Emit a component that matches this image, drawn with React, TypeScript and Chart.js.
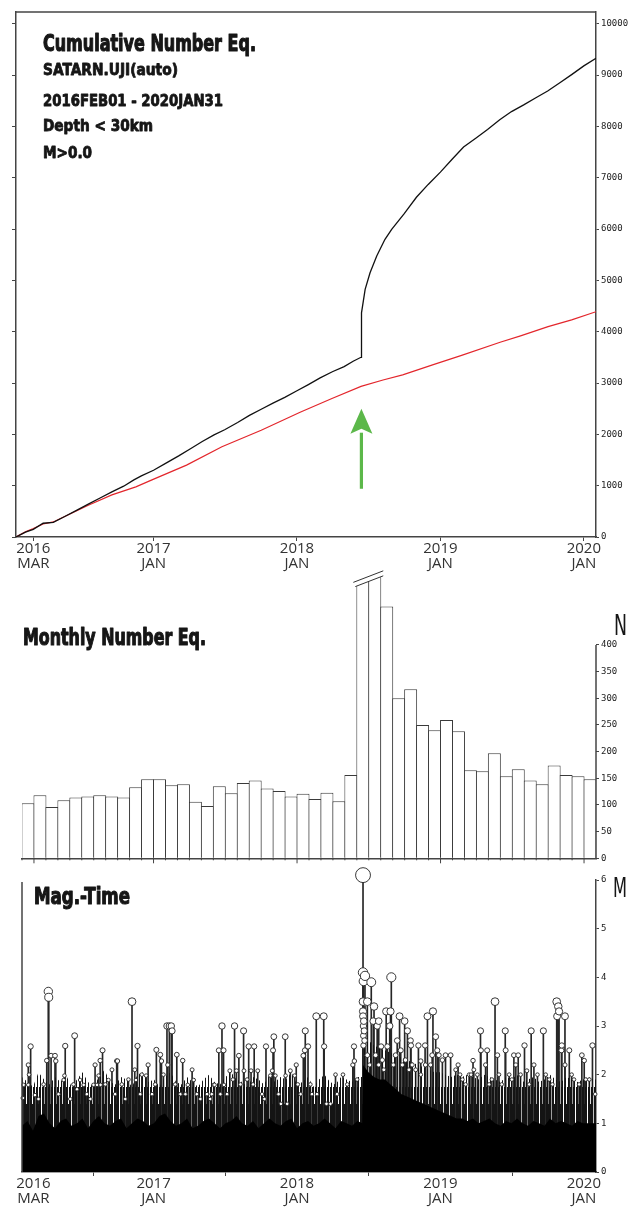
import React, { useEffect, useRef } from 'react';
import { Chart, registerables } from 'chart.js';

Chart.register(...registerables);

const W = 642;

// ---------- shared time axis: days since 2016-01-01 ----------
const X_MAX = 1492;
const xTickDays = [60, 366, 731, 1096, 1461];
const xTickYears = ['2016', '2017', '2018', '2019', '2020'];
const xTickMonths = ['MAR', 'JAN', 'JAN', 'JAN', 'JAN'];

// ---------- cumulative number ----------
const cumTitle = 'Cumulative Number Eq.';
const cumInfo = ['SATARN.UJI(auto)', '2016FEB01 - 2020JAN31', 'Depth < 30km', 'M>0.0'];
const cumTicks = [0, 1000, 2000, 3000, 4000, 5000, 6000, 7000, 8000, 9000, 10000];
const allDays = [16, 40, 60, 85, 111, 140, 170, 200, 230, 260, 290, 316, 335, 366, 400, 430, 460, 490, 520, 547, 580, 610, 640, 670, 700, 731, 760, 790, 821, 851, 874, 894, 894.5, 896, 904.5, 917, 934, 955, 972, 1004, 1035, 1065, 1096, 1127, 1155, 1186, 1216, 1247, 1277, 1308, 1339, 1369, 1400, 1430, 1461, 1492];
const allCounts = [0, 95, 150, 268, 285, 400, 520, 640, 760, 880, 990, 1113, 1190, 1300, 1450, 1580, 1720, 1860, 1990, 2090, 2230, 2370, 2490, 2610, 2720, 2850, 2970, 3100, 3220, 3320, 3424, 3502, 3850, 4369, 4824, 5150, 5475, 5801, 5996, 6300, 6620, 6870, 7110, 7370, 7600, 7770, 7940, 8130, 8290, 8420, 8560, 8690, 8850, 9010, 9180, 9330];
const declDays = [16, 40, 60, 85, 111, 140, 200, 260, 321, 362, 450, 540, 640, 739, 820, 894, 950, 1000, 1078, 1150, 1248, 1300, 1370, 1430, 1492];
const declCounts = [0, 100, 165, 254, 293, 400, 620, 820, 977, 1113, 1400, 1760, 2080, 2430, 2700, 2935, 3060, 3160, 3360, 3540, 3795, 3920, 4100, 4230, 4390];
const arrowDay = 895;
const arrowTip = 2500;
const arrowTail = 940;

// ---------- monthly number ----------
const monthTitle = 'Monthly Number Eq.';
const months = [
  '2016-02', '2016-03', '2016-04', '2016-05', '2016-06', '2016-07', '2016-08', '2016-09', '2016-10', '2016-11', '2016-12',
  '2017-01', '2017-02', '2017-03', '2017-04', '2017-05', '2017-06', '2017-07', '2017-08', '2017-09', '2017-10', '2017-11', '2017-12',
  '2018-01', '2018-02', '2018-03', '2018-04', '2018-05', '2018-06', '2018-07', '2018-08', '2018-09', '2018-10', '2018-11', '2018-12',
  '2019-01', '2019-02', '2019-03', '2019-04', '2019-05', '2019-06', '2019-07', '2019-08', '2019-09', '2019-10', '2019-11', '2019-12',
  '2020-01',
];
const monthlyCounts = [103, 118, 96, 109, 114, 116, 118, 116, 114, 133, 148, 148, 137, 139, 106, 98, 135, 122, 141, 146, 131, 126, 116, 121, 111, 123, 107, 156, 1480, 590, 472, 300, 317, 250, 240, 259, 238, 165, 163, 197, 154, 167, 146, 139, 174, 156, 154, 148];
const monthlyTicks = [0, 50, 100, 150, 200, 250, 300, 350, 400];
const majorMonths = ['2016-03', '2017-01', '2018-01', '2019-01', '2020-01'];
const MONTH_MAX = 531;
const breakMonths = ['2018-06', '2018-07'];
const breakLow = 510;
const breakHigh = 528;

// ---------- magnitude - time ----------
const magTitle = 'Mag.-Time';
const magTicks = [0, 1, 2, 3, 4, 5, 6];
const eventDays = [
  33, 35, 47, 47, 49, 53, 64, 94, 98, 99, 105, 115, 117, 137, 139, 141, 165, 171, 179, 188, 213, 217, 222, 226, 230, 231, 236, 251, 260, 272, 274, 311, 318, 321, 325, 336, 347, 352, 373, 383, 386, 400, 402, 406, 411, 413, 425, 440, 453, 464, 468, 519,
  521, 532, 540, 544, 545, 560, 572, 577, 583, 595, 596, 608, 614, 622, 631, 652, 663, 668, 670, 672, 676, 701, 702, 714, 725, 729, 747, 751, 752, 759, 780, 799, 800, 829, 848, 873, 876, 877,
  899, 899, 899, 899, 899, 900, 900, 900, 900.5, 901, 902, 903, 904, 910, 920, 925, 927, 935, 939, 945, 958, 961, 967, 969, 971, 986, 992, 995, 1005, 1012,
  1020, 1021, 1040, 1046, 1057, 1063, 1075, 1077, 1084, 1088, 1109, 1122, 1179, 1198, 1199, 1215, 1235, 1241, 1261, 1262, 1283, 1294, 1310, 1316, 1327, 1358, 1392, 1393, 1396, 1398, 1404, 1405, 1413, 1424, 1456, 1462, 1483,
  73, 86, 124, 154, 162, 196, 205, 243, 268, 285, 294, 302, 332, 362, 370, 391, 421, 434, 447, 476, 485, 502, 510,
  514, 536, 553, 568, 587, 604, 619, 642, 648, 684, 690, 706, 733, 740, 765, 769, 782, 806, 816, 833, 859, 884,
  910, 916, 931, 939, 948, 952, 976, 982, 999, 1007, 1016,
  1024, 1033, 1046, 1058, 1071, 1092, 1101, 1135, 1141, 1146, 1152, 1160, 1169, 1174, 1181, 1190, 1211, 1220, 1227, 1245, 1252, 1271, 1278, 1288, 1300, 1322, 1334, 1343, 1364, 1373, 1381, 1413, 1430, 1436, 1449, 1466, 1475, 1490,
];
const eventMags = [
  1.52, 1.79, 2.2, 1.79, 2.0, 2.58, 1.58, 2.29, 3.71, 3.59, 2.39, 2.39, 2.28, 1.89, 1.98, 2.59, 2.8, 1.7, 1.89, 1.79, 1.79, 2.2, 1.79, 1.98, 2.29, 1.79, 2.5, 1.89, 2.1, 2.28, 2.28, 3.5, 2.1, 1.89, 2.59, 2.0, 1.98, 2.2, 2.51, 2.41, 2.28, 3.0, 2.2, 3.0, 3.0, 2.9, 2.41, 2.29, 1.79, 2.1, 1.89, 1.79,
  1.79, 2.5, 3.0, 2.5, 1.79, 2.08, 3.0, 2.08, 2.39, 2.9, 2.08, 2.58, 2.08, 2.58, 2.08, 2.58, 1.98, 2.08, 2.5, 2.78, 1.98, 2.78, 1.98, 2.08, 1.98, 2.2, 2.39, 2.5, 2.9, 2.58, 3.2, 3.2, 2.58, 2.0, 2.0, 2.2, 2.58, 2.28,
  6.1, 4.1, 3.5, 3.3, 3.2, 3.0, 2.8, 2.6, 3.92, 3.1, 2.9, 2.7, 4.03, 3.5, 3.9, 3.1, 3.4, 3.0, 3.1, 2.58, 3.3, 2.58, 3.0, 3.3, 4.0, 2.7, 3.2, 2.5, 3.1, 2.9,
  2.7, 2.6, 2.6, 2.28, 2.6, 3.2, 2.4, 3.3, 2.78, 2.5, 2.4, 2.4, 2.29, 2.9, 2.5, 2.5, 3.5, 2.4, 2.9, 2.5, 2.4, 2.4, 2.6, 2.08, 2.9, 2.9, 3.5, 3.2, 3.4, 3.3, 2.5, 2.6, 3.2, 2.5, 2.4, 2.29, 2.6,
  1.5, 1.8, 1.6, 1.5, 1.8, 1.6, 1.5, 1.8, 1.6, 1.8, 1.5, 1.9, 1.6, 1.6, 1.8, 2.0, 1.8, 1.6, 1.6, 1.6, 1.5, 1.6, 1.5,
  1.6, 1.6, 1.6, 1.9, 1.8, 1.9, 1.8, 1.6, 1.5, 1.6, 1.4, 1.4, 1.8, 1.6, 1.8, 1.6, 1.6, 1.4, 1.4, 1.6, 1.8, 1.9,
  2.4, 2.2, 2.4, 2.2, 2.3, 2.1, 2.2, 2.4, 2.2, 2.3, 2.1,
  2.2, 2.1, 2.0, 2.2, 2.2, 2.4, 2.3, 2.1, 2.2, 2.0, 1.9, 1.8, 2.0, 2.0, 2.1, 2.0, 2.2, 1.8, 1.9, 2.0, 1.8, 2.0, 1.9, 2.2, 2.0, 1.8, 2.2, 2.0, 2.0, 1.9, 1.8, 2.2, 2.0, 1.9, 1.8, 1.9, 1.9, 1.6,
];
// envelope of the dense swarm of small events (solid black part, and the hatched part above it)
const massDays = [
  31, 45, 59, 73, 87, 101, 115, 129, 143, 157, 171, 185, 199, 213, 227, 241, 255, 269, 283, 297, 311, 325, 339, 353, 367, 381, 395, 409, 423, 437, 451, 465, 479, 493, 507, 521, 535, 549, 563, 577, 591, 605, 619, 633, 647, 661, 675, 689, 703, 717, 731, 745, 759, 773, 787, 801, 815, 829, 843, 857, 871, 885,
  897,
  899, 913, 927, 941, 955, 969, 983, 997, 1011, 1025, 1039, 1053, 1067, 1081, 1095, 1109, 1123, 1137, 1151, 1165, 1179, 1193, 1207, 1221, 1235, 1249, 1263, 1277, 1291, 1305, 1319, 1333, 1347, 1361, 1375, 1389, 1403, 1417, 1431, 1445, 1459, 1473, 1487,
  1492,
];
const massTop = [
  0.95, 1.05, 0.85, 1.15, 1.2, 1.0, 0.9, 1.05, 1.1, 0.95, 1.0, 1.1, 0.9, 1.05, 1.15, 1.0, 0.95, 1.05, 1.1, 0.9, 1.0, 1.1, 1.05, 0.95, 1.0, 1.15, 1.2, 1.05, 0.95, 1.0, 1.1, 0.9, 0.95, 1.05, 1.1, 1.0, 0.9, 1.0, 1.05, 1.15, 1.0, 0.95, 1.05, 0.9, 1.0, 1.1, 1.0, 0.95, 1.05, 1.1, 0.9, 1.0, 1.05, 0.95, 1.0, 1.1, 1.0, 0.9, 1.05, 1.0, 0.95, 1.05,
  1.0,
  2.2, 2.05, 1.95, 1.9, 1.9, 1.8, 1.7, 1.6, 1.55, 1.5, 1.45, 1.4, 1.35, 1.3, 1.25, 1.2, 1.15, 1.1, 1.1, 1.05, 1.1, 1.0, 1.05, 1.1, 1.0, 0.95, 1.05, 1.0, 1.1, 1.0, 0.95, 1.05, 1.0, 0.95, 1.1, 1.0, 1.05, 1.0, 0.95, 1.05, 1.0, 1.0, 1.0,
  1.0,
];
const hazeTop = [
  1.95, 1.85, 1.75, 2.05, 1.9, 1.8, 1.95, 1.85, 2.0, 1.75, 1.9, 2.05, 1.85, 1.75, 1.95, 2.1, 1.85, 1.8, 1.95, 1.9, 1.75, 2.0, 2.05, 1.85, 1.9, 1.75, 1.95, 2.05, 1.85, 1.8, 1.95, 1.85, 1.75, 1.9, 2.0, 1.85, 1.8, 1.95, 2.05, 1.9, 1.85, 1.75, 1.95, 1.9, 1.8, 2.0, 1.85, 1.95, 1.9, 2.05, 1.8, 1.85, 1.95, 1.75, 1.9, 2.0, 1.85, 1.8, 1.95, 1.9, 1.85, 1.95,
  1.95,
  2.9, 2.7, 2.6, 2.55, 2.5, 2.45, 2.4, 2.35, 2.3, 2.25, 2.2, 2.15, 2.1, 2.05, 2.05, 2.0, 1.95, 2.0, 1.95, 2.0, 1.95, 1.9, 2.0, 1.95, 1.9, 1.85, 1.95, 1.9, 2.0, 1.85, 1.9, 1.95, 1.85, 1.9, 2.0, 1.9, 1.85, 1.95, 1.9, 1.85, 1.9, 1.95, 1.9,
  1.9,
];
// density bands of the hatch that stands for the swarm of small stems
const hatchDenseBelow = 1.4;
const hatchMidBelow = 1.75;

// ---------- fonts ----------
const MONO = '"DejaVu Sans Mono", "Liberation Mono", monospace';
const SANS = '"Open Sans", "Noto Sans", sans-serif';
const HEAVY = '"DejaVu Sans Condensed", "Liberation Sans Narrow", "DejaVu Sans", sans-serif';
const AXIS = '#444';

function fitText(ctx: CanvasRenderingContext2D, text: string, x: number, base: number, size: number, width: number, weight = 'bold', stroke = 0) {
  ctx.save();
  ctx.font = `${weight} ${size}px ${HEAVY}`;
  const w = ctx.measureText(text).width;
  ctx.translate(x, base);
  ctx.scale(width / w, 1);
  ctx.fillStyle = '#161616';
  ctx.fillText(text, 0, 0);
  if (stroke > 0) {
    ctx.strokeStyle = '#161616';
    ctx.lineWidth = stroke;
    ctx.lineJoin = 'round';
    ctx.strokeText(text, 0, 0);
  }
  ctx.restore();
}

function timeAxis(min: number, height: number) {
  return {
    type: 'linear',
    min,
    max: X_MAX,
    offset: false,
    afterBuildTicks: (s: any) => {
      s.ticks = xTickDays.map((v) => ({ value: v }));
    },
    afterFit: (s: any) => {
      s.height = height;
    },
    ticks: {
      callback: (_v: any, i: number) => [xTickYears[i], xTickMonths[i]],
      font: { family: SANS, size: 15, lineHeight: 1 },
      color: '#333',
      padding: 0,
      maxRotation: 0,
      autoSkip: false,
    },
    grid: { drawOnChartArea: false, tickLength: 4, color: AXIS },
    border: { color: AXIS, width: 1.5 },
  };
}

function rightAxis(max: number, ticks: number[], border = true) {
  return {
    position: 'right',
    min: 0,
    max,
    afterBuildTicks: (s: any) => {
      s.ticks = ticks.map((v) => ({ value: v }));
    },
    afterFit: (s: any) => {
      s.width = 46;
    },
    ticks: {
      font: { family: MONO, size: 9 },
      color: '#222',
      padding: 2,
      autoSkip: false,
      callback: (v: any) => String(v),
    },
    grid: { drawOnChartArea: false, tickLength: 3, color: AXIS },
    border: { display: border, color: AXIS, width: 1.5 },
  };
}

const baseOptions = {
  responsive: false,
  animation: false,
  events: [] as string[],
  plugins: { legend: { display: false }, tooltip: { enabled: false } },
};

// ---------- chart 1 ----------
function cumulativeConfig() {
  const CUM_MAX = 10230;
  const decor = {
    id: 'cumDecor',
    afterDraw(chart: any) {
      const { ctx, chartArea: a, scales } = chart;
      ctx.save();
      ctx.strokeStyle = AXIS;
      ctx.lineWidth = 1.5;
      ctx.beginPath();
      ctx.moveTo(a.left, a.top);
      ctx.lineTo(a.right, a.top);
      ctx.stroke();
      ctx.restore();

      fitText(ctx, cumTitle, 43, 50.5, 23, 213, 'bold', 1.1);
      fitText(ctx, cumInfo[0], 43, 74.5, 16, 135, 'bold', 0.8);
      fitText(ctx, cumInfo[1], 43, 106, 16, 180, 'bold', 0.8);
      fitText(ctx, cumInfo[2], 43, 130.5, 16, 110, 'bold', 0.8);
      fitText(ctx, cumInfo[3], 43, 158, 16, 49, 'bold', 0.8);

      // green arrow pointing at the main shock
      const x = scales.x.getPixelForValue(arrowDay);
      const yTip = scales.y.getPixelForValue(arrowTip);
      const yTail = scales.y.getPixelForValue(arrowTail);
      const headLen = 25;
      const headHalf = 11;
      ctx.save();
      ctx.fillStyle = '#5cb84a';
      ctx.fillRect(x - 1.6, yTip + headLen - 1, 3.2, yTail - yTip - headLen + 1);
      ctx.beginPath();
      ctx.moveTo(x, yTip);
      ctx.lineTo(x + headHalf, yTip + headLen);
      ctx.lineTo(x, yTip + headLen - 5);
      ctx.lineTo(x - headHalf, yTip + headLen);
      ctx.closePath();
      ctx.fill();
      ctx.restore();
    },
  };
  return {
    type: 'line',
    data: {
      datasets: [
        {
          label: 'all events',
          data: allDays.map((d, i) => ({ x: d, y: allCounts[i] })),
          borderColor: '#111',
          borderWidth: 1.3,
          pointRadius: 0,
          tension: 0,
        },
        {
          label: 'declustered',
          data: declDays.map((d, i) => ({ x: d, y: declCounts[i] })),
          borderColor: '#e3262c',
          borderWidth: 1.2,
          pointRadius: 0,
          tension: 0,
        },
      ],
    },
    options: {
      ...baseOptions,
      layout: { padding: { top: 12, left: 0, right: 0, bottom: 0 } },
      scales: {
        x: timeAxis(16, 35),
        y: rightAxis(CUM_MAX, cumTicks),
        yl: {
          position: 'left',
          min: 0,
          max: CUM_MAX,
          afterBuildTicks: (s: any) => {
            s.ticks = cumTicks.map((v) => ({ value: v }));
          },
          afterFit: (s: any) => {
            s.width = 16;
          },
          ticks: { display: false },
          grid: { drawOnChartArea: false, tickLength: 4, color: AXIS },
          border: { color: AXIS, width: 1.5 },
        },
      },
    },
    plugins: [decor],
  };
}

// ---------- chart 2 ----------
function monthlyConfig() {
  const decor = {
    id: 'monthDecor',
    afterDatasetsDraw(chart: any) {
      const { ctx, chartArea: a, scales } = chart;
      const meta = chart.getDatasetMeta(0);
      const b0: any = meta.data[months.indexOf(breakMonths[0])];
      const b1: any = meta.data[months.indexOf(breakMonths[1])];
      const xl = b0.x - b0.width / 2;
      const xr = b1.x + b1.width / 2;
      const yl = scales.y.getPixelForValue(breakLow);
      const yr = scales.y.getPixelForValue(breakHigh);
      const at = (xx: number) => yl + ((yr - yl) / (xr - xl)) * (xx - xl);
      ctx.save();
      ctx.fillStyle = '#fff';
      ctx.beginPath();
      ctx.moveTo(xl - 1, a.top - 2);
      ctx.lineTo(xr + 1, a.top - 2);
      ctx.lineTo(xr + 1, at(xr + 1));
      ctx.lineTo(xl - 1, at(xl - 1));
      ctx.closePath();
      ctx.fill();
      ctx.strokeStyle = '#333';
      ctx.lineWidth = 1;
      ctx.beginPath();
      ctx.moveTo(xl - 1, at(xl - 1));
      ctx.lineTo(xr + 2, at(xr + 2));
      ctx.moveTo(xl - 3, at(xl - 3) - 5);
      ctx.lineTo(xr + 2, at(xr + 2) - 5);
      ctx.stroke();
      ctx.restore();
    },
    afterDraw(chart: any) {
      const { ctx, chartArea: a, scales } = chart;
      ctx.save();
      ctx.strokeStyle = AXIS;
      ctx.lineWidth = 1.5;
      ctx.beginPath();
      ctx.moveTo(a.right, scales.y.getPixelForValue(monthlyTicks[0]) + 0.5);
      ctx.lineTo(a.right, scales.y.getPixelForValue(monthlyTicks[monthlyTicks.length - 1]));
      ctx.stroke();
      ctx.lineWidth = 1;
      const step = (a.right - a.left) / months.length;
      ctx.beginPath();
      months.forEach((m, i) => {
        const x = scales.x.getPixelForValue(i) - step / 2;
        const len = majorMonths.includes(m) ? 5 : 2;
        ctx.moveTo(x, a.bottom);
        ctx.lineTo(x, a.bottom + len);
      });
      ctx.stroke();
      ctx.restore();
      fitText(ctx, monthTitle, 23, 85, 23, 183, 'bold', 1.1);
      fitText(ctx, 'N', 614, 75, 28, 13, 'normal', 0);
    },
  };
  return {
    type: 'bar',
    data: {
      labels: months,
      datasets: [
        {
          label: 'monthly',
          data: monthlyCounts,
          backgroundColor: '#fff',
          borderColor: '#3a3a3a',
          borderWidth: 1,
          barPercentage: 1.085,
          categoryPercentage: 1,
          clip: 0,
        },
      ],
    },
    options: {
      ...baseOptions,
      layout: { padding: { top: 15, left: 22, right: 0, bottom: 0 } },
      scales: {
        x: {
          type: 'category',
          offset: true,
          ticks: { display: false },
          grid: { display: false },
          border: { color: AXIS, width: 1.5 },
          afterFit: (s: any) => {
            s.height = 7.7;
          },
        },
        y: rightAxis(MONTH_MAX, monthlyTicks, false),
      },
    },
    plugins: [decor],
  };
}

// ---------- chart 3 ----------
const patternCache = new WeakMap<object, CanvasPattern>();
function swarmHatch(c: any) {
  const chart = c.chart;
  if (!chart.chartArea) return '#777';
  const cached = patternCache.get(chart);
  if (cached) return cached;
  const y = chart.scales.y;
  const tile = document.createElement('canvas');
  tile.width = 6;
  tile.height = Math.ceil(chart.height);
  const g = tile.getContext('2d')!;
  g.fillStyle = '#141414';
  for (let py = 0; py < tile.height; py++) {
    const m = y.getValueForPixel(py + 0.5);
    const cols = m < hatchDenseBelow ? [0, 1, 2, 3, 4] : m < hatchMidBelow ? [0, 1, 3, 4] : [1, 4];
    cols.forEach((px) => g.fillRect(px, py, 1, 1));
  }
  const p = chart.ctx.createPattern(tile, 'repeat');
  if (p) patternCache.set(chart, p);
  return p || '#777';
}

function magConfig() {
  const radius = (m: number) => Math.max(1.8, 1.37 * m - 0.9);
  const points = eventDays.map((d, i) => ({ x: d, y: eventMags[i] }));
  const stems = eventDays.map((d, i) => ({ x: d, y: eventMags[i] }));
  const decor = {
    id: 'magDecor',
    afterDraw(chart: any) {
      const { ctx, chartArea: a } = chart;
      ctx.save();
      ctx.strokeStyle = AXIS;
      ctx.lineWidth = 1.5;
      ctx.beginPath();
      ctx.moveTo(a.left, a.bottom);
      ctx.lineTo(a.left, a.top + 2);
      ctx.stroke();
      ctx.restore();
      fitText(ctx, magTitle, 34, 38, 23, 96, 'bold', 1.1);
      fitText(ctx, 'M', 613, 31, 26, 14, 'normal', 0);
    },
  };
  // dataset index 0 is painted last (on top)
  return {
    type: 'scatter',
    data: {
      datasets: [
        {
          type: 'scatter',
          label: 'events',
          data: points,
          pointRadius: (c: any) => radius(c.raw ? c.raw.y : 2),
          pointBackgroundColor: '#fff',
          pointBorderColor: '#222',
          pointBorderWidth: 0.9,
          clip: false,
        },
        {
          type: 'line',
          label: 'swarm core',
          data: massDays.map((d, i) => ({ x: d, y: massTop[i] })),
          showLine: true,
          borderWidth: 0,
          pointRadius: 0,
          fill: 'origin',
          backgroundColor: '#000',
          tension: 0,
        },
        {
          type: 'line',
          label: 'swarm',
          data: massDays.map((d, i) => ({ x: d, y: hazeTop[i] })),
          showLine: true,
          borderWidth: 0,
          pointRadius: 0,
          fill: 'origin',
          backgroundColor: swarmHatch,
          tension: 0,
        },
        {
          type: 'bar',
          label: 'stems',
          data: stems,
          backgroundColor: '#262626',
          barThickness: 1,
          grouped: false,
          borderWidth: 0,
          clip: false,
        },
      ],
    },
    options: {
      ...baseOptions,
      layout: { padding: { top: 14, left: 22, right: 0, bottom: 0 } },
      scales: {
        x: timeAxis(31, 38),
        y: rightAxis(6, magTicks),
      },
    },
    plugins: [decor],
  };
}

export default function App() {
  const r1 = useRef<HTMLCanvasElement>(null);
  const r2 = useRef<HTMLCanvasElement>(null);
  const r3 = useRef<HTMLCanvasElement>(null);

  useEffect(() => {
    const charts = [
      new Chart(r1.current!, cumulativeConfig() as any),
      new Chart(r2.current!, monthlyConfig() as any),
      new Chart(r3.current!, magConfig() as any),
    ];
    return () => charts.forEach((c) => c.destroy());
  }, []);

  const canvasStyle = (top: number, h: number): React.CSSProperties => ({
    position: 'absolute',
    left: 0,
    top,
    width: W,
    height: h,
  });

  return (
    <div style={{ position: 'absolute', left: 0, top: 0, width: W, height: 1210, background: '#fff', overflow: 'hidden' }}>
      <canvas ref={r1} width={W} height={572} style={canvasStyle(0, 572)} />
      <canvas ref={r2} width={W} height={306} style={canvasStyle(560, 306)} />
      <canvas ref={r3} width={W} height={344} style={canvasStyle(866, 344)} />
    </div>
  );
}
